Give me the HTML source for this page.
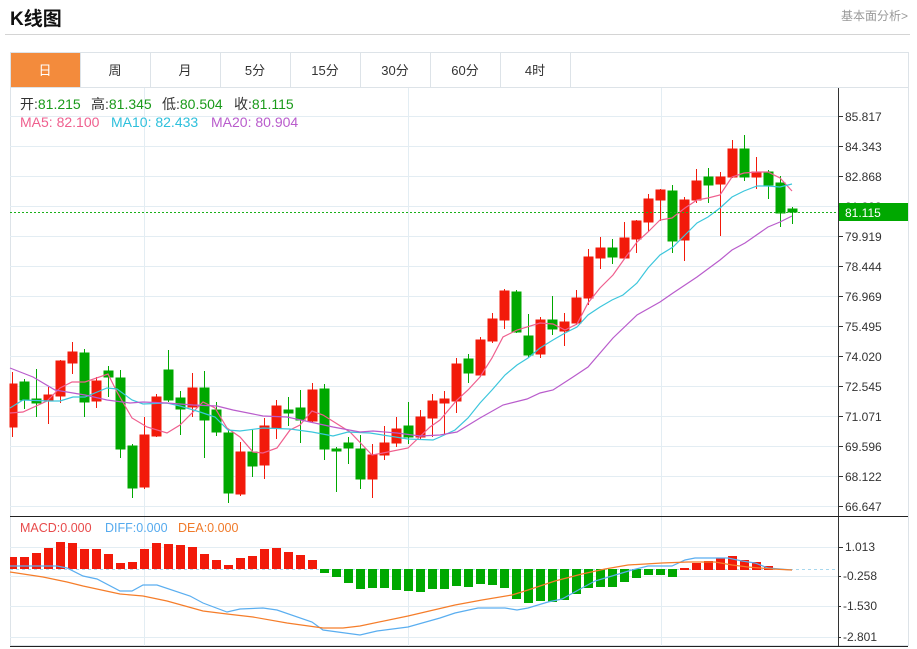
<!DOCTYPE html>
<html><head><meta charset="utf-8"><style>
body{margin:0;background:#fff;width:917px;height:649px;overflow:hidden;position:relative;font-family:"Liberation Sans","Noto Sans CJK SC",sans-serif}
.t{position:absolute}
</style></head><body>
<div class="t" style="left:10px;top:4px;font-size:19px;font-weight:bold;color:#111">K线图</div>
<div class="t" style="left:841px;top:7px;font-size:12px;color:#999">基本面分析&gt;</div>
<div class="t" style="left:5px;top:34px;width:905px;height:1px;background:#d4d4d4"></div>
<svg class="t" style="left:0;top:0" width="917" height="649" xmlns="http://www.w3.org/2000/svg" font-family="Liberation Sans, Noto Sans CJK SC, sans-serif">
<rect x="10.5" y="52.5" width="898" height="593" fill="none" stroke="#dde3e8"/>
<line x1="10" y1="87.5" x2="908" y2="87.5" stroke="#dde3e8"/>
<rect x="11" y="53" width="69" height="34" fill="#f38b3c"/>
<g stroke="#dde3e8"><line x1="80.5" y1="53" x2="80.5" y2="87"/><line x1="150.5" y1="53" x2="150.5" y2="87"/><line x1="220.5" y1="53" x2="220.5" y2="87"/><line x1="290.5" y1="53" x2="290.5" y2="87"/><line x1="360.5" y1="53" x2="360.5" y2="87"/><line x1="430.5" y1="53" x2="430.5" y2="87"/><line x1="500.5" y1="53" x2="500.5" y2="87"/><line x1="570.5" y1="53" x2="570.5" y2="87"/></g>
<g font-size="13" text-anchor="middle" fill="#333"><text x="45" y="75" fill="#fff">日</text><text x="115" y="75">周</text><text x="185" y="75">月</text><text x="255" y="75">5分</text><text x="325" y="75">15分</text><text x="395" y="75">30分</text><text x="465" y="75">60分</text><text x="535" y="75">4时</text></g>
<g stroke="#e3edf3" stroke-width="1">
<line x1="10" y1="116.5" x2="838" y2="116.5"/><line x1="10" y1="146.5" x2="838" y2="146.5"/><line x1="10" y1="176.5" x2="838" y2="176.5"/><line x1="10" y1="206.5" x2="838" y2="206.5"/><line x1="10" y1="236.5" x2="838" y2="236.5"/><line x1="10" y1="266.5" x2="838" y2="266.5"/><line x1="10" y1="296.5" x2="838" y2="296.5"/><line x1="10" y1="326.5" x2="838" y2="326.5"/><line x1="10" y1="356.5" x2="838" y2="356.5"/><line x1="10" y1="386.5" x2="838" y2="386.5"/><line x1="10" y1="416.5" x2="838" y2="416.5"/><line x1="10" y1="446.5" x2="838" y2="446.5"/><line x1="10" y1="476.5" x2="838" y2="476.5"/><line x1="10" y1="506.5" x2="838" y2="506.5"/>
<line x1="10" y1="547.5" x2="838" y2="547.5"/><line x1="10" y1="576.5" x2="838" y2="576.5"/><line x1="10" y1="606.5" x2="838" y2="606.5"/><line x1="10" y1="637.5" x2="838" y2="637.5"/>
<line x1="144.5" y1="88" x2="144.5" y2="646"/><line x1="408.5" y1="88" x2="408.5" y2="646"/><line x1="661.5" y1="88" x2="661.5" y2="646"/>
</g>
<line x1="838.5" y1="88" x2="838.5" y2="646" stroke="#333"/>
<line x1="10" y1="516.5" x2="908" y2="516.5" stroke="#222"/>
<line x1="10" y1="646.5" x2="908" y2="646.5" stroke="#222"/>
<g font-size="12" fill="#333"><g stroke="#333">
<line x1="838" y1="116.5" x2="843" y2="116.5"/><line x1="838" y1="146.5" x2="843" y2="146.5"/><line x1="838" y1="176.5" x2="843" y2="176.5"/><line x1="838" y1="236.5" x2="843" y2="236.5"/><line x1="838" y1="266.5" x2="843" y2="266.5"/><line x1="838" y1="296.5" x2="843" y2="296.5"/><line x1="838" y1="326.5" x2="843" y2="326.5"/><line x1="838" y1="356.5" x2="843" y2="356.5"/><line x1="838" y1="386.5" x2="843" y2="386.5"/><line x1="838" y1="416.5" x2="843" y2="416.5"/><line x1="838" y1="446.5" x2="843" y2="446.5"/><line x1="838" y1="476.5" x2="843" y2="476.5"/><line x1="838" y1="506.5" x2="843" y2="506.5"/><line x1="838" y1="547.5" x2="843" y2="547.5"/><line x1="838" y1="576.5" x2="841" y2="576.5"/><line x1="838" y1="606.5" x2="841" y2="606.5"/><line x1="838" y1="637.5" x2="841" y2="637.5"/></g>
<text x="845" y="121">85.817</text><text x="845" y="151">84.343</text><text x="845" y="181">82.868</text><text x="845" y="211">81.393</text><text x="845" y="241">79.919</text><text x="845" y="271">78.444</text><text x="845" y="301">76.969</text><text x="845" y="331">75.495</text><text x="845" y="361">74.020</text><text x="845" y="391">72.545</text><text x="845" y="421">71.071</text><text x="845" y="451">69.596</text><text x="845" y="481">68.122</text><text x="845" y="511">66.647</text>
<text x="845" y="551">1.013</text><text x="843" y="580">-0.258</text><text x="843" y="610">-1.530</text><text x="843" y="641">-2.801</text>
</g>
<g stroke-width="1">
<g stroke="#f21a0a" fill="#f21a0a">
<line x1="12.5" y1="372" x2="12.5" y2="437"/><rect x="10" y="384" width="7" height="43"/>
<line x1="48.5" y1="387" x2="48.5" y2="424"/><rect x="44" y="395" width="9" height="6"/>
<line x1="60.5" y1="360" x2="60.5" y2="403"/><rect x="56" y="361" width="9" height="35"/>
<line x1="72.5" y1="342" x2="72.5" y2="374"/><rect x="68" y="352" width="9" height="11"/>
<line x1="96.5" y1="377" x2="96.5" y2="408"/><rect x="92" y="381" width="9" height="20"/>
<line x1="144.5" y1="417" x2="144.5" y2="489"/><rect x="140" y="435" width="9" height="52"/>
<line x1="156.5" y1="394" x2="156.5" y2="437"/><rect x="152" y="397" width="9" height="39"/>
<line x1="192.5" y1="373" x2="192.5" y2="417"/><rect x="188" y="388" width="9" height="19"/>
<line x1="240.5" y1="442" x2="240.5" y2="496"/><rect x="236" y="452" width="9" height="42"/>
<line x1="264.5" y1="418" x2="264.5" y2="479"/><rect x="260" y="426" width="9" height="39"/>
<line x1="276.5" y1="400" x2="276.5" y2="439"/><rect x="272" y="406" width="9" height="22"/>
<line x1="312.5" y1="383" x2="312.5" y2="423"/><rect x="308" y="390" width="9" height="31"/>
<line x1="372.5" y1="444" x2="372.5" y2="498"/><rect x="368" y="455" width="9" height="24"/>
<line x1="384.5" y1="426" x2="384.5" y2="460"/><rect x="380" y="443" width="9" height="12"/>
<line x1="396.5" y1="417" x2="396.5" y2="447"/><rect x="392" y="429" width="9" height="14"/>
<line x1="420.5" y1="410" x2="420.5" y2="439"/><rect x="416" y="417" width="9" height="20"/>
<line x1="432.5" y1="394" x2="432.5" y2="437"/><rect x="428" y="401" width="9" height="17"/>
<line x1="444.5" y1="391" x2="444.5" y2="434"/><rect x="440" y="399" width="9" height="4"/>
<line x1="456.5" y1="358" x2="456.5" y2="413"/><rect x="452" y="364" width="9" height="37"/>
<line x1="480.5" y1="337" x2="480.5" y2="377"/><rect x="476" y="340" width="9" height="35"/>
<line x1="492.5" y1="313" x2="492.5" y2="343"/><rect x="488" y="319" width="9" height="22"/>
<line x1="504.5" y1="289" x2="504.5" y2="329"/><rect x="500" y="291" width="9" height="29"/>
<line x1="540.5" y1="317" x2="540.5" y2="358"/><rect x="536" y="320" width="9" height="34"/>
<line x1="564.5" y1="313" x2="564.5" y2="346"/><rect x="560" y="322" width="9" height="9"/>
<line x1="576.5" y1="290" x2="576.5" y2="325"/><rect x="572" y="298" width="9" height="25"/>
<line x1="588.5" y1="249" x2="588.5" y2="305"/><rect x="584" y="257" width="9" height="41"/>
<line x1="600.5" y1="237" x2="600.5" y2="269"/><rect x="596" y="248" width="9" height="10"/>
<line x1="624.5" y1="222" x2="624.5" y2="259"/><rect x="620" y="238" width="9" height="20"/>
<line x1="636.5" y1="220" x2="636.5" y2="253"/><rect x="632" y="221" width="9" height="18"/>
<line x1="648.5" y1="194" x2="648.5" y2="232"/><rect x="644" y="199" width="9" height="23"/>
<line x1="660.5" y1="189" x2="660.5" y2="221"/><rect x="656" y="190" width="9" height="10"/>
<line x1="684.5" y1="197" x2="684.5" y2="261"/><rect x="680" y="200" width="9" height="40"/>
<line x1="696.5" y1="169" x2="696.5" y2="203"/><rect x="692" y="181" width="9" height="19"/>
<line x1="720.5" y1="172" x2="720.5" y2="236"/><rect x="716" y="177" width="9" height="7"/>
<line x1="732.5" y1="140" x2="732.5" y2="178"/><rect x="728" y="149" width="9" height="28"/>
<line x1="756.5" y1="157" x2="756.5" y2="189"/><rect x="752" y="172" width="9" height="5"/>
</g>
<g stroke="#00a800" fill="#00a800">
<line x1="24.5" y1="379" x2="24.5" y2="409"/><rect x="20" y="382" width="9" height="18"/>
<line x1="36.5" y1="369" x2="36.5" y2="417"/><rect x="32" y="399" width="9" height="4"/>
<line x1="84.5" y1="349" x2="84.5" y2="417"/><rect x="80" y="353" width="9" height="49"/>
<line x1="108.5" y1="366" x2="108.5" y2="397"/><rect x="104" y="371" width="9" height="6"/>
<line x1="120.5" y1="370" x2="120.5" y2="458"/><rect x="116" y="378" width="9" height="71"/>
<line x1="132.5" y1="444" x2="132.5" y2="498"/><rect x="128" y="446" width="9" height="42"/>
<line x1="168.5" y1="350" x2="168.5" y2="402"/><rect x="164" y="370" width="9" height="30"/>
<line x1="180.5" y1="391" x2="180.5" y2="435"/><rect x="176" y="398" width="9" height="11"/>
<line x1="204.5" y1="371" x2="204.5" y2="458"/><rect x="200" y="388" width="9" height="32"/>
<line x1="216.5" y1="402" x2="216.5" y2="436"/><rect x="212" y="410" width="9" height="22"/>
<line x1="228.5" y1="430" x2="228.5" y2="503"/><rect x="224" y="433" width="9" height="60"/>
<line x1="252.5" y1="429" x2="252.5" y2="477"/><rect x="248" y="452" width="9" height="14"/>
<line x1="288.5" y1="397" x2="288.5" y2="426"/><rect x="284" y="410" width="9" height="3"/>
<line x1="300.5" y1="390" x2="300.5" y2="443"/><rect x="296" y="408" width="9" height="12"/>
<line x1="324.5" y1="384" x2="324.5" y2="460"/><rect x="320" y="389" width="9" height="60"/>
<line x1="336.5" y1="447" x2="336.5" y2="492"/><rect x="332" y="449" width="9" height="2"/>
<line x1="348.5" y1="437" x2="348.5" y2="464"/><rect x="344" y="443" width="9" height="5"/>
<line x1="360.5" y1="435" x2="360.5" y2="489"/><rect x="356" y="449" width="9" height="30"/>
<line x1="408.5" y1="402" x2="408.5" y2="444"/><rect x="404" y="426" width="9" height="11"/>
<line x1="468.5" y1="354" x2="468.5" y2="383"/><rect x="464" y="359" width="9" height="14"/>
<line x1="516.5" y1="290" x2="516.5" y2="333"/><rect x="512" y="292" width="9" height="40"/>
<line x1="528.5" y1="314" x2="528.5" y2="358"/><rect x="524" y="336" width="9" height="19"/>
<line x1="552.5" y1="296" x2="552.5" y2="335"/><rect x="548" y="320" width="9" height="9"/>
<line x1="612.5" y1="239" x2="612.5" y2="264"/><rect x="608" y="248" width="9" height="9"/>
<line x1="672.5" y1="185" x2="672.5" y2="253"/><rect x="668" y="191" width="9" height="50"/>
<line x1="708.5" y1="168" x2="708.5" y2="203"/><rect x="704" y="177" width="9" height="8"/>
<line x1="744.5" y1="135" x2="744.5" y2="181"/><rect x="740" y="149" width="9" height="28"/>
<line x1="768.5" y1="170" x2="768.5" y2="199"/><rect x="764" y="172" width="9" height="13"/>
<line x1="780.5" y1="176" x2="780.5" y2="227"/><rect x="776" y="183" width="9" height="30"/>
<line x1="792.5" y1="207" x2="792.5" y2="224"/><rect x="788" y="209" width="9" height="3"/>
</g></g>
<polyline fill="none" stroke="#ef5f8e" stroke-width="1.2" points="10,413 23,412 47,401 60,388 72,382 85,382 108,374 117,392 132,418 147,427 167,433 180,425 203,402 215,408 227,428 240,437 253,452 263,453 277,448 290,430 300,425 312,411 323,415 350,432 372,455 383,453 408,448 430,427 440,420 457,400 468,390 480,377 492,358 503,337 517,330 540,323 553,324 565,330 577,324 588,303 600,288 613,275 625,258 637,242 648,232 660,220 672,218 685,208 697,200 708,198 720,195 732,177 744,173 757,172 768,172 780,178 792,191"/>
<polyline fill="none" stroke="#3cc6dc" stroke-width="1.2" points="10,408 23,400 48,401 60,401 73,397 85,397 107,388 117,389 132,400 143,404 167,403 180,406 200,412 215,417 228,430 240,431 263,428 290,429 312,432 333,436 348,432 370,433 408,439 433,440 440,437 455,430 468,418 480,403 492,390 505,375 517,365 528,358 540,348 553,340 565,333 577,327 588,315 600,307 612,300 623,295 637,283 648,268 660,255 673,247 685,235 697,223 708,217 720,208 732,197 744,191 757,186 768,186 780,187 792,184"/>
<polyline fill="none" stroke="#b95ccc" stroke-width="1.2" points="10,368 33,377 55,390 67,392 85,395 107,400 130,403 143,402 167,403 193,405 217,406 233,410 263,416 287,417 310,422 333,427 360,432 373,431 397,433 420,436 440,435 457,432 480,418 503,405 527,399 540,393 553,390 573,377 588,367 613,338 637,315 660,302 673,293 697,277 720,260 732,250 745,243 768,227 780,222 792,216"/>
<line x1="10" y1="212.5" x2="838" y2="212.5" stroke="#1ab01a" stroke-dasharray="2,2"/>
<rect x="839" y="203" width="69" height="18" fill="#00a800"/>
<text x="845" y="217" font-size="12" fill="#fff">81.115</text>
<g font-size="14">
<text x="20" y="109" fill="#333">开:<tspan fill="#1a9a1a">81.215</tspan></text>
<text x="91" y="109" fill="#333">高:<tspan fill="#1a9a1a">81.345</tspan></text>
<text x="162" y="109" fill="#333">低:<tspan fill="#1a9a1a">80.504</tspan></text>
<text x="234" y="109" fill="#333">收:<tspan fill="#1a9a1a">81.115</tspan></text>
<text x="20" y="127" fill="#ef5f8e">MA5: 82.100</text><text x="111" y="127" fill="#2ec0dc">MA10: 82.433</text><text x="211" y="127" fill="#b95ccc">MA20: 80.904</text>
</g>
<g font-size="12.5"><text x="20" y="532" fill="#e84b4b">MACD:0.000</text><text x="105" y="532" fill="#55aaee">DIFF:0.000</text><text x="178" y="532" fill="#f07a2a">DEA:0.000</text></g>
<line x1="10" y1="569.5" x2="838" y2="569.5" stroke="#a8d8ee" stroke-dasharray="3,3"/>
<g fill="#f21a0a">
<rect x="10" y="557" width="7" height="12"/><rect x="20" y="557" width="9" height="12"/><rect x="32" y="553" width="9" height="16"/><rect x="44" y="548" width="9" height="21"/><rect x="56" y="542" width="9" height="27"/><rect x="68" y="543" width="9" height="26"/><rect x="80" y="549" width="9" height="20"/><rect x="92" y="549" width="9" height="20"/><rect x="104" y="554" width="9" height="15"/><rect x="116" y="563" width="9" height="6"/><rect x="128" y="562" width="9" height="7"/><rect x="140" y="549" width="9" height="20"/><rect x="152" y="543" width="9" height="26"/><rect x="164" y="544" width="9" height="25"/><rect x="176" y="545" width="9" height="24"/><rect x="188" y="547" width="9" height="22"/><rect x="200" y="554" width="9" height="15"/><rect x="212" y="560" width="9" height="9"/><rect x="224" y="565" width="9" height="4"/><rect x="236" y="558" width="9" height="11"/><rect x="248" y="556" width="9" height="13"/><rect x="260" y="549" width="9" height="20"/><rect x="272" y="548" width="9" height="21"/><rect x="284" y="552" width="9" height="17"/><rect x="296" y="555" width="9" height="14"/><rect x="308" y="560" width="9" height="9"/>
<rect x="680" y="568" width="9" height="2"/><rect x="692" y="563" width="9" height="7"/><rect x="704" y="561" width="9" height="9"/><rect x="716" y="558" width="9" height="12"/><rect x="728" y="556" width="9" height="14"/><rect x="740" y="560" width="9" height="10"/><rect x="752" y="562" width="9" height="8"/><rect x="764" y="566" width="9" height="4"/>
</g>
<g fill="#00a800">
<rect x="320" y="569" width="9" height="4"/><rect x="332" y="569" width="9" height="8"/><rect x="344" y="569" width="9" height="14"/><rect x="356" y="569" width="9" height="20"/><rect x="368" y="569" width="9" height="19"/><rect x="380" y="569" width="9" height="19"/><rect x="392" y="569" width="9" height="21"/><rect x="404" y="569" width="9" height="22"/><rect x="416" y="569" width="9" height="23"/><rect x="428" y="569" width="9" height="20"/><rect x="440" y="569" width="9" height="20"/><rect x="452" y="569" width="9" height="17"/><rect x="464" y="569" width="9" height="18"/><rect x="476" y="569" width="9" height="15"/><rect x="488" y="569" width="9" height="16"/><rect x="500" y="569" width="9" height="19"/><rect x="512" y="569" width="9" height="30"/><rect x="524" y="569" width="9" height="34"/><rect x="536" y="569" width="9" height="32"/><rect x="548" y="569" width="9" height="33"/><rect x="560" y="569" width="9" height="31"/><rect x="572" y="569" width="9" height="25"/><rect x="584" y="569" width="9" height="19"/><rect x="596" y="569" width="9" height="18"/><rect x="608" y="569" width="9" height="18"/><rect x="620" y="569" width="9" height="13"/><rect x="632" y="569" width="9" height="9"/><rect x="644" y="569" width="9" height="6"/><rect x="656" y="569" width="9" height="6"/><rect x="668" y="569" width="9" height="8"/>
</g>
<polyline fill="none" stroke="#5aaef0" stroke-width="1.2" points="10,566 57,566 67,568 83,576 97,579 120,591 132,591 143,585 157,585 190,596 203,603 227,612 240,609 263,608 277,610 312,622 323,630 360,635 377,631 408,627 440,618 455,613 478,608 505,608 517,610 528,608 548,602 562,599 582,588 595,581 612,576 632,570 648,566 672,566 685,560 695,558 728,558 742,561 755,563 768,568 792,570"/>
<polyline fill="none" stroke="#f57d2a" stroke-width="1.2" points="10,572 43,577 67,582 83,586 120,594 143,596 167,601 203,611 227,614 253,617 287,623 323,628 343,628 360,626 408,616 455,605 482,600 512,595 528,590 555,581 582,574 605,569 628,565 662,563 688,562 715,562 732,565 748,567 772,569 792,570"/>
</svg>
</body></html>
